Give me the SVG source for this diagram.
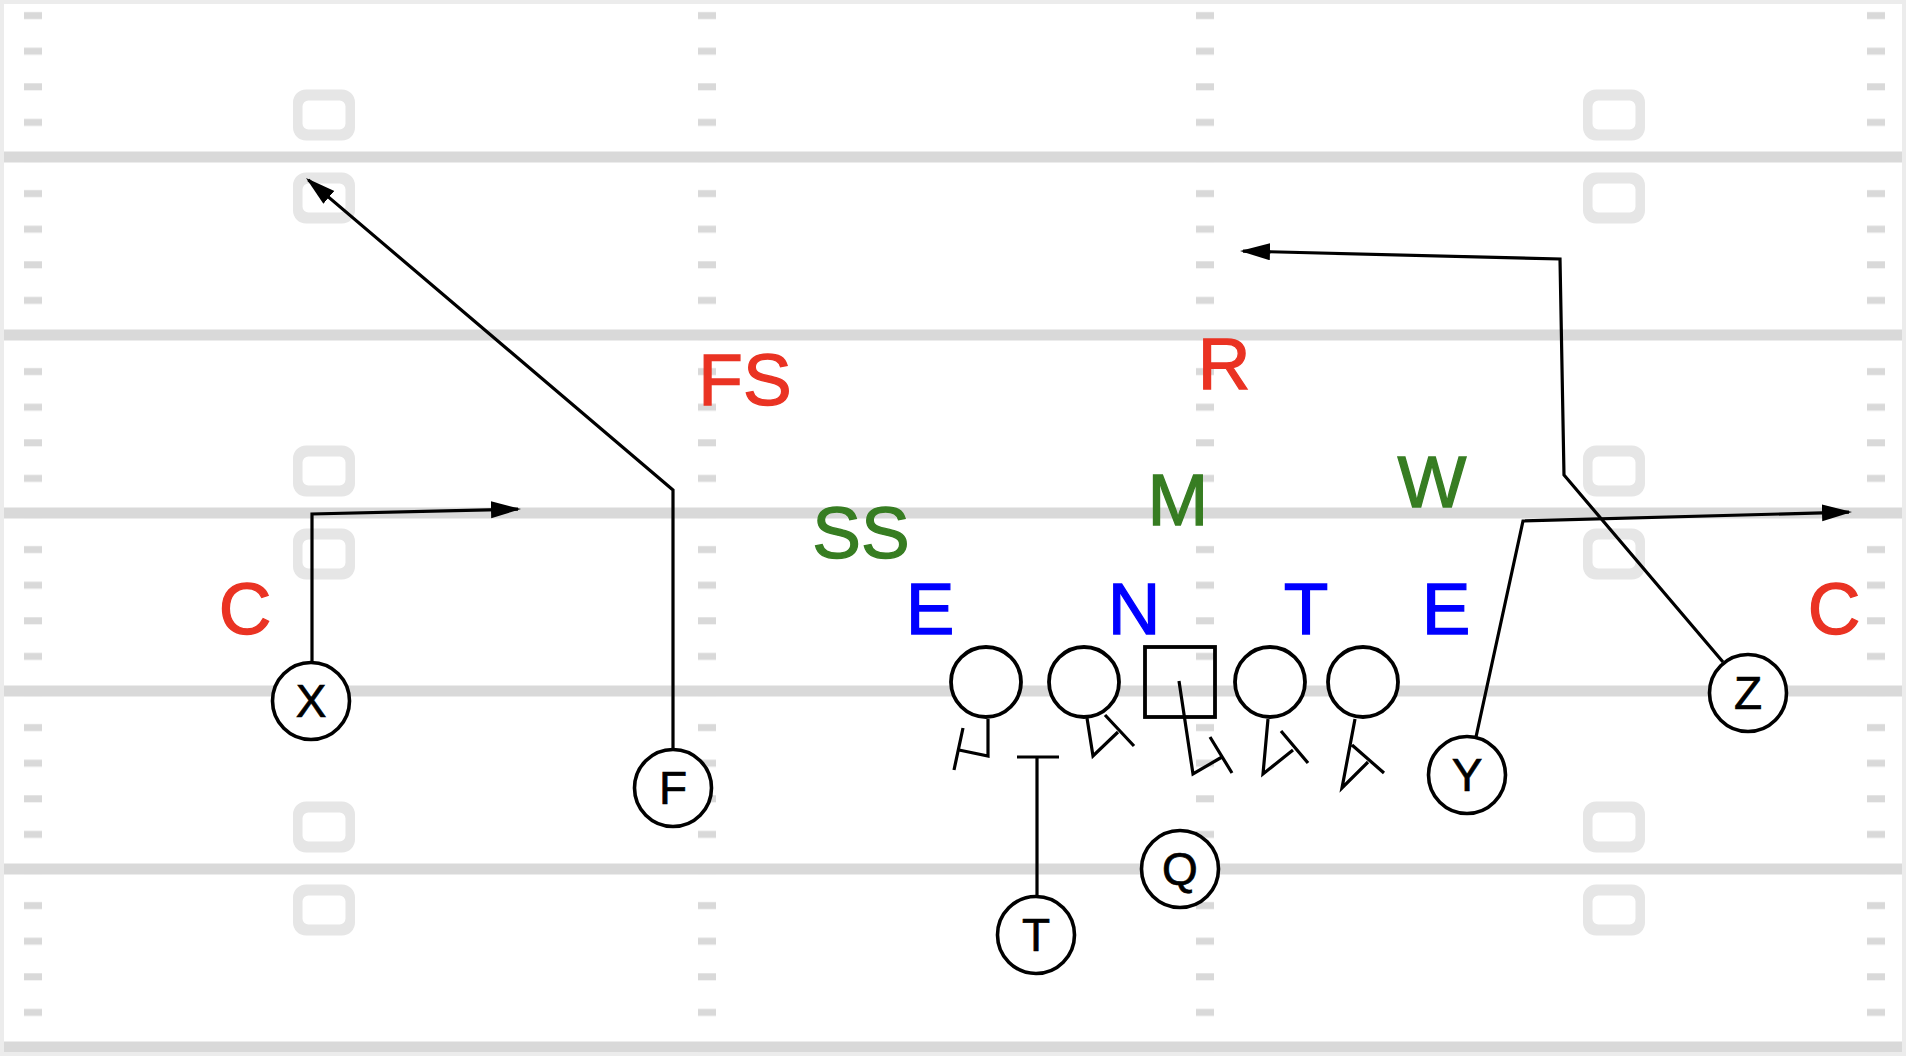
<svg xmlns="http://www.w3.org/2000/svg" width="1906" height="1056" viewBox="0 0 1906 1056">
<style>
.yl{fill:#d9d9d9}
.num{fill:#e6e6e6;fill-rule:evenodd}
.pl{fill:#fff;stroke:#000;stroke-width:3.6}
.ol{fill:#fff;stroke:#000;stroke-width:3.8}
.pt{font-family:"Liberation Sans",Arial,sans-serif;font-size:46px;text-anchor:middle;fill:#000;stroke:#000;stroke-width:0.7}
.lbl{font-family:"Liberation Sans",Arial,sans-serif;font-size:73px;text-anchor:middle;stroke-width:1.3}
.red{fill:#ea3323;stroke:#ea3323}
.grn{fill:#377d22;stroke:#377d22}
.blu{fill:#0000ff;stroke:#0000ff}
.rt{fill:none;stroke:#000;stroke-width:3.2;stroke-linejoin:miter}
.arr{marker-end:url(#ah)}
</style>
<defs>
<marker id="ah" markerUnits="userSpaceOnUse" markerWidth="31" markerHeight="18" refX="27" refY="8.5" orient="auto">
<path d="M0,0 L30,8.5 L0,17 z" fill="#000"/>
</marker>
<pattern id="hash" patternUnits="userSpaceOnUse" x="0" y="0" width="1906" height="35.6">
<rect x="24" y="12.1" width="18" height="7" fill="#d9d9d9"/>
<rect x="698" y="12.1" width="18" height="7" fill="#d9d9d9"/>
<rect x="1196" y="12.1" width="18" height="7" fill="#d9d9d9"/>
<rect x="1867" y="12.1" width="18" height="7" fill="#d9d9d9"/>
</pattern>
<path id="n0" d="M-18,-25.5 H18 A13,13 0 0 1 31,-12.5 V12.5 A13,13 0 0 1 18,25.5 H-18 A13,13 0 0 1 -31,12.5 V-12.5 A13,13 0 0 1 -18,-25.5 Z M-15.5,-14.5 H15.5 A6,6 0 0 1 21.5,-8.5 V8.5 A6,6 0 0 1 15.5,14.5 H-15.5 A6,6 0 0 1 -21.5,8.5 V-8.5 A6,6 0 0 1 -15.5,-14.5 Z"/>
</defs>

<g id="field">
<rect x="0" y="0" width="1906" height="1056" fill="#ececec"/>
<rect x="4" y="4" width="1898" height="1049" fill="#fff"/>
<rect x="4" y="4" width="1898" height="1049" fill="url(#hash)"/>
<rect class="yl" x="4" y="151.5" width="1898" height="11"/>
<rect class="yl" x="4" y="329.5" width="1898" height="11"/>
<rect class="yl" x="4" y="507.5" width="1898" height="11"/>
<rect class="yl" x="4" y="685.5" width="1898" height="11"/>
<rect class="yl" x="4" y="863.5" width="1898" height="11"/>
<rect class="yl" x="4" y="1041.5" width="1898" height="11"/>
<use href="#n0" class="num" x="324" y="115"/>
<use href="#n0" class="num" x="324" y="198"/>
<use href="#n0" class="num" x="324" y="471"/>
<use href="#n0" class="num" x="324" y="554"/>
<use href="#n0" class="num" x="324" y="827"/>
<use href="#n0" class="num" x="324" y="910"/>
<use href="#n0" class="num" x="1614" y="115"/>
<use href="#n0" class="num" x="1614" y="198"/>
<use href="#n0" class="num" x="1614" y="471"/>
<use href="#n0" class="num" x="1614" y="554"/>
<use href="#n0" class="num" x="1614" y="827"/>
<use href="#n0" class="num" x="1614" y="910"/>
</g>

<g id="connectors">
<path class="rt arr" d="M312,662 L312,514 L518,509.1"/>
<path class="rt arr" d="M673,749 L673,490 L308.3,179.9"/>
<path class="rt" d="M1037,897 L1037,757 M1017,757 L1059,757"/>
<path class="rt arr" d="M1723,662 L1564,475 L1560,259 L1243,251.1"/>
<path class="rt arr" d="M1476,737 L1523,521 L1849,512.1"/>
<path class="rt" d="M988,719 L988,756 L959,750 M963,728 L954,770"/>
<path class="rt" d="M1087,718 L1093,756 L1118,732 M1105,715 L1134,746"/>
<path class="rt" d="M1222,757 L1193,774 L1179,681 M1210,737 L1232,773"/>
<path class="rt" d="M1268,719 L1263,774 L1293,750 M1281,731 L1308,763"/>
<path class="rt" d="M1355,719 L1342,788 L1368,762 M1352,745 L1384,773"/>
</g>

<g id="ol-1"><circle class="ol" cx="986" cy="682" r="35"/></g>
<g id="ol-2"><circle class="ol" cx="1084" cy="682" r="35"/></g>
<g id="center"><rect class="ol" x="1145" y="647" width="70" height="70" fill-opacity="0"/></g>
<g id="ol-4"><circle class="ol" cx="1270" cy="682" r="35"/></g>
<g id="ol-5"><circle class="ol" cx="1363" cy="682" r="35"/></g>

<g id="node-x"><circle class="pl" cx="311" cy="701" r="38.5"/><text class="pt" x="311" y="717">X</text></g>
<g id="node-f"><circle class="pl" cx="673" cy="788" r="38.5"/><text class="pt" x="673" y="804">F</text></g>
<g id="node-t"><circle class="pl" cx="1036" cy="935" r="38.5"/><text class="pt" x="1036" y="951">T</text></g>
<g id="node-q"><circle class="pl" cx="1180" cy="869" r="38.5"/><text class="pt" x="1180" y="885">Q</text></g>
<g id="node-y"><circle class="pl" cx="1467" cy="775" r="38.5"/><text class="pt" x="1467" y="791">Y</text></g>
<g id="node-z"><circle class="pl" cx="1748" cy="693" r="38.5"/><text class="pt" x="1748" y="709">Z</text></g>

<g id="def-fs"><text class="lbl red" x="745" y="405">FS</text></g>
<g id="def-r"><text class="lbl red" x="1224" y="389">R</text></g>
<g id="def-m"><text class="lbl grn" x="1178" y="525">M</text></g>
<g id="def-ss"><text class="lbl grn" x="861" y="558">SS</text></g>
<g id="def-w"><text class="lbl grn" x="1432" y="507">W</text></g>
<g id="def-e1"><text class="lbl blu" x="930" y="634">E</text></g>
<g id="def-n"><text class="lbl blu" x="1134" y="634">N</text></g>
<g id="def-t"><text class="lbl blu" x="1306" y="634">T</text></g>
<g id="def-e2"><text class="lbl blu" x="1446" y="634">E</text></g>
<g id="def-c1"><text class="lbl red" x="245" y="634">C</text></g>
<g id="def-c2"><text class="lbl red" x="1834" y="634">C</text></g>
</svg>
